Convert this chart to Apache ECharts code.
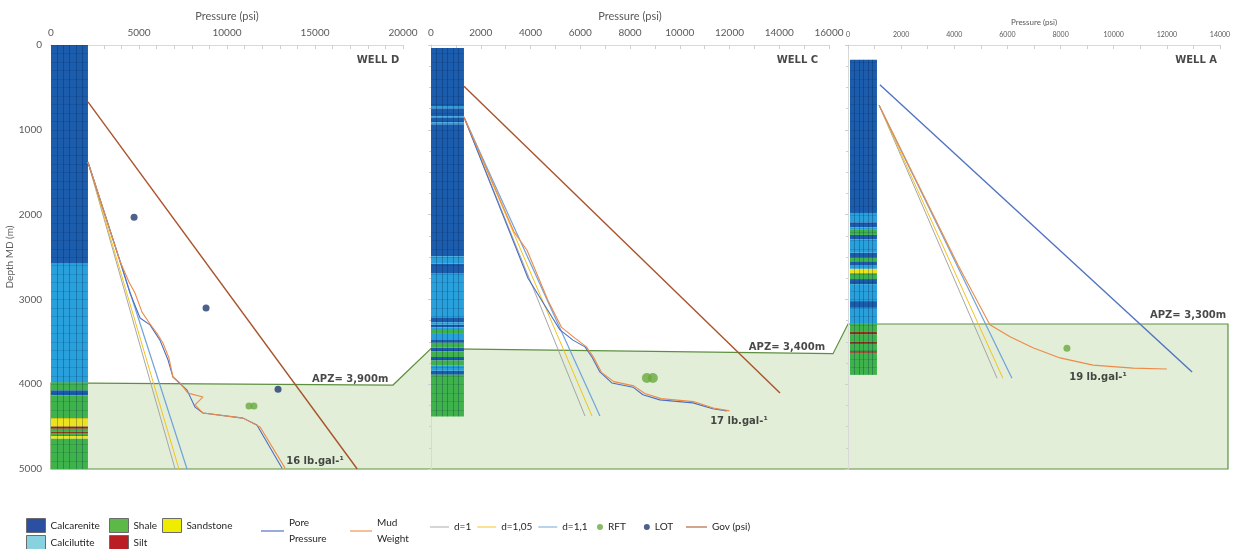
<!DOCTYPE html>
<html>
<head>
<meta charset="utf-8">
<script src="https://cdn.jsdelivr.net/npm/echarts@6/dist/echarts.min.js"></script>
<style>
  html, body { margin: 0; padding: 0; background: #fff; }
  #chart { width: 1237px; height: 549px; }
</style>
</head>
<body>
<div id="chart"></div>
<script>
// 井名 / 坐标轴
const wells = ['WELL D', 'WELL C', 'WELL A']
const pressureMax = [20000, 16000, 14000]
const pressureLabelStep = [5000, 2000, 2000]
const depthMax = 5000

// 岩性分层 [top m, bottom m, type]
const lithD = [
  [0, 2570, 'Calcarenite'], [2570, 3980, 'Calcilutite'], [3980, 4070, 'Shale'],
  [4070, 4130, 'Calcarenite'], [4130, 4400, 'Shale'], [4400, 4500, 'Sandstone'],
  [4500, 4525, 'Silt'], [4525, 4560, 'Shale'], [4560, 4580, 'Silt'], [4580, 4610, 'Shale'],
  [4610, 4640, 'Sandstone'], [4640, 5000, 'Shale']
]
const lithC = [
  [35, 720, 'Calcarenite'], [720, 745, 'Calcilutite'], [745, 840, 'Calcarenite'],
  [840, 860, 'Calcilutite'], [860, 910, 'Calcarenite'], [910, 935, 'Calcilutite'],
  [935, 2490, 'Calcarenite'], [2490, 2580, 'Calcilutite'], [2580, 2690, 'Calcarenite'],
  [2690, 3210, 'Calcilutite'], [3210, 3270, 'Calcarenite'], [3270, 3300, 'Calcilutite'],
  [3300, 3330, 'Calcarenite'], [3330, 3360, 'Calcilutite'], [3360, 3400, 'Shale'],
  [3400, 3480, 'Calcilutite'], [3480, 3510, 'Calcarenite'], [3510, 3570, 'Shale'],
  [3570, 3610, 'Calcarenite'], [3610, 3680, 'Shale'], [3680, 3720, 'Calcarenite'],
  [3720, 3780, 'Shale'], [3780, 3840, 'Calcilutite'], [3840, 3890, 'Calcarenite'],
  [3890, 4380, 'Shale']
]
const lithA = [
  [175, 1980, 'Calcarenite'], [1980, 2090, 'Calcilutite'], [2090, 2150, 'Calcarenite'],
  [2150, 2180, 'Calcilutite'], [2180, 2240, 'Shale'], [2240, 2290, 'Calcarenite'],
  [2290, 2450, 'Calcilutite'], [2450, 2510, 'Calcarenite'], [2510, 2550, 'Shale'],
  [2550, 2600, 'Calcarenite'], [2600, 2640, 'Calcilutite'], [2640, 2690, 'Sandstone'],
  [2690, 2760, 'Shale'], [2760, 2820, 'Calcarenite'], [2820, 3020, 'Calcilutite'],
  [3020, 3100, 'Calcarenite'], [3100, 3280, 'Calcilutite'], [3280, 3380, 'Shale'],
  [3380, 3410, 'Silt'], [3410, 3500, 'Shale'], [3500, 3525, 'Silt'], [3525, 3610, 'Shale'],
  [3610, 3630, 'Silt'], [3630, 3890, 'Shale']
]

// 压力曲线 [psi, depth m]
const govD = [[2100, 670], [17400, 5000]]
const d1D = [[2100, 1380], [7050, 5000]]
const d105D = [[2100, 1380], [7270, 5000]]
const d11D = [[2100, 1380], [7730, 5000]]
const poreD = [[2100, 1380], [3940, 2560], [4490, 2925], [5060, 3220], [5625, 3300], [6190, 3480],
  [6650, 3715], [6930, 3915], [7730, 4070], [8180, 4270], [8640, 4340], [10910, 4400], [11700, 4480], [13130, 4990]]
const mudD = [[2100, 1380], [3940, 2560], [4430, 2795], [4770, 2925], [5170, 3150], [5630, 3290],
  [6020, 3400], [6360, 3515], [6700, 3690], [6930, 3915], [7330, 3985], [7780, 4105], [8640, 4150],
  [8180, 4245], [8640, 4340], [10910, 4400], [11880, 4505], [13300, 4990]]
const rftD = [[11250, 4257], [11530, 4257]]
const lotD = [[4720, 2030], [8810, 3100], [12900, 4060]]

const govC = [[1325, 485], [14030, 4105]]
const d1C = [[1325, 850], [6190, 4375]]
const d105C = [[1325, 850], [6470, 4375]]
const d11C = [[1325, 850], [6790, 4375]]
const poreC = [[1325, 850], [3900, 2750], [5185, 3360], [5710, 3480], [6190, 3560], [6470, 3680],
  [6790, 3855], [7270, 3985], [8120, 4035], [8520, 4125], [9200, 4185], [10530, 4220], [11330, 4290], [11900, 4315]]
const mudC = [[1325, 850], [3330, 2200], [3860, 2420], [4700, 3010], [5250, 3330], [5800, 3460],
  [6250, 3560], [6550, 3690], [6850, 3860], [7350, 3970], [8150, 4020], [8600, 4110], [9250, 4170],
  [10550, 4205], [11350, 4280], [12000, 4315]]
const rftC = [[8680, 3927], [8920, 3927]]
const lotC = []

const govA = [[1200, 470], [12950, 3855]]
const d1A = [[1170, 710], [5610, 3930]]
const d105A = [[1170, 710], [5830, 3930]]
const d11A = [[1170, 710], [6170, 3930]]
const poreA = []
const mudA = [[1170, 710], [4150, 2600], [5340, 3300], [6100, 3440], [6960, 3570], [7980, 3690],
  [9220, 3775], [10730, 3810], [12000, 3820]]
const rftA = [[8240, 3575]]
const lotA = []

// APZ 区域上边界 [psi, depth]
const apzTopD = [[0, 3985], [19430, 4010]]
const apzTopC = [[0, 3580], [16160, 3640]]
const apzTopA = [[0, 3290], [14300, 3290]]

// 标注 [text, psi, depth]
const annotD = [['WELL D', 18580, 177], ['APZ= 3,900m', 17000, 3940], ['16 lb.gal-¹', 15000, 4906]]
const annotC = [['WELL C', 14730, 177], ['APZ= 3,400m', 14310, 3561], ['17 lb.gal-¹', 12380, 4434]]
const annotA = [['WELL A', 13100, 177], ['APZ= 3,300m', 12800, 3184], ['19 lb.gal-¹', 9410, 3915]]

// 岩性柱宽度 (psi)
const columnPsi = [[0, 2100], [0, 1325], [75, 1090]]

const lithTypes = ['Calcarenite', 'Calcilutite', 'Shale', 'Sandstone', 'Silt']
const lithColor = { Calcarenite: '#1b5dac', Calcilutite: '#27a0dc', Shale: '#3fb34b', Sandstone: '#ebe31c', Silt: '#8e3a1e' }
const lithLegendColor = { Calcarenite: '#2b4fa3', Calcilutite: '#88d2df', Shale: '#5cb947', Sandstone: '#f0ec00', Silt: '#b81e24' }

const FONT = 'Lato, "Liberation Sans", sans-serif'
const BOLD_FONT = '"DejaVu Sans", Verdana, sans-serif'
const LINE_ICON = 'path://M0,0 L20,0 L20,1 L0,1 Z'

const wellData = [
  { lith: lithD, gov: govD, d1: d1D, d105: d105D, d11: d11D, pore: poreD, mud: mudD, rft: rftD, lot: lotD, annot: annotD, govColor: '#a8532b' },
  { lith: lithC, gov: govC, d1: d1C, d105: d105C, d11: d11C, pore: poreC, mud: mudC, rft: rftC, lot: lotC, annot: annotC, govColor: '#a8532b' },
  { lith: lithA, gov: govA, d1: d1A, d105: d105A, d11: d11A, pore: poreA, mud: mudA, rft: rftA, lot: lotA, annot: annotA, govColor: '#5173c0' },
]
const gridPos = [{ left: 51, width: 352 }, { left: 431, width: 398 }, { left: 848, width: 372 }]

function rectRender(params, api) {
  const p0 = api.coord([api.value(0), api.value(2)])
  const p1 = api.coord([api.value(1), api.value(3)])
  return {
    type: 'rect',
    shape: { x: p0[0], y: p0[1], width: p1[0] - p0[0], height: p1[1] - p0[1] },
    style: { fill: api.visual('color') },
  }
}

// 岩性柱网格纹理
function textureRender(params, api) {
  const x0 = api.value(0), x1 = api.value(1), top = api.value(2), bottom = api.value(3)
  const p0 = api.coord([x0, top])
  const p1 = api.coord([x1, bottom])
  const children = []
  const w = p1[0] - p0[0]
  for (let k = 1; k < 6; k++) {
    const x = Math.round(p0[0] + (w * k) / 6) + 0.5
    children.push({ type: 'line', shape: { x1: x, y1: p0[1], x2: x, y2: p1[1] }, style: { stroke: 'rgba(0,25,70,0.28)', lineWidth: 1 } })
  }
  for (let d = Math.ceil(top / 100) * 100; d < bottom; d += 100) {
    const y = Math.round(api.coord([x0, d])[1]) + 0.5
    children.push({ type: 'line', shape: { x1: p0[0], y1: y, x2: p1[0], y2: y }, style: { stroke: 'rgba(0,20,60,0.12)', lineWidth: 1 } })
  }
  return { type: 'group', children }
}

function lineSeries(name, data, i, color, width) {
  return {
    type: 'line', name, data, xAxisIndex: i, yAxisIndex: i,
    symbol: 'none', showSymbol: false, z: 4,
    lineStyle: { color, width }, itemStyle: { color },
  }
}

const series = []
wellData.forEach((w, i) => {
  const cx = columnPsi[i]
  lithTypes.forEach((t) => {
    series.push({
      type: 'custom', name: t, xAxisIndex: i, yAxisIndex: i, z: 3,
      itemStyle: { color: lithColor[t] },
      encode: { x: [0, 1], y: [2, 3] },
      data: w.lith.filter((r) => r[2] === t).map((r) => [cx[0], cx[1], r[0], r[1]]),
      renderItem: rectRender,
    })
  })
  const colTop = w.lith[0][0], colBottom = w.lith[w.lith.length - 1][1]
  series.push({
    type: 'custom', name: 'texture' + i, xAxisIndex: i, yAxisIndex: i, z: 3, silent: true,
    encode: { x: [0, 1], y: [2, 3] },
    data: [[cx[0], cx[1], colTop, colBottom]],
    renderItem: textureRender,
  })
  series.push(lineSeries('d=1', w.d1, i, '#a6a6a6', 1))
  series.push(lineSeries('d=1,05', w.d105, i, '#f5c21b', 1))
  series.push(lineSeries('d=1,1', w.d11, i, '#6fa3d8', 1.2))
  series.push(lineSeries('Pore Pressure', w.pore, i, '#4a6fc4', 1.1))
  series.push(lineSeries('Mud Weight', w.mud, i, '#ee8a47', 1.1))
  series.push(lineSeries('Gov (psi)', w.gov, i, w.govColor, 1.4))
  series.push({
    type: 'scatter', name: 'RFT', data: w.rft, xAxisIndex: i, yAxisIndex: i, z: 5,
    symbolSize: i === 1 ? 10 : 7, itemStyle: { color: '#6aaa3f' },
  })
  series.push({
    type: 'scatter', name: 'LOT', data: w.lot, xAxisIndex: i, yAxisIndex: i, z: 5,
    symbolSize: 7, itemStyle: { color: '#1f3a6e' },
  })
  series.push({
    type: 'scatter', name: 'annot' + i, xAxisIndex: i, yAxisIndex: i, z: 6, silent: true,
    symbolSize: 0,
    data: w.annot.map((a) => ({ name: a[0], value: [a[1], a[2]] })),
    label: {
      show: true, position: 'inside', formatter: (p) => p.name,
      color: '#1a1a1a', fontWeight: 'bold', fontSize: 10, fontFamily: BOLD_FONT,
    },
  })
})

const legendText = { fontSize: 10, color: '#262626', fontFamily: FONT }
// 岩性图例，每项单独定位
const legends = [
  { name: 'Calcarenite', left: 26, top: 518 },
  { name: 'Shale', left: 109, top: 518 },
  { name: 'Sandstone', left: 162, top: 518 },
  { name: 'Calcilutite', left: 26, top: 535 },
  { name: 'Silt', left: 109, top: 535 },
].map((l) => ({
  left: l.left, top: l.top,
  data: [{ name: l.name, itemStyle: { color: lithLegendColor[l.name], borderColor: '#6b6b6b', borderWidth: 1 } }],
  icon: 'rect', itemWidth: 19, itemHeight: 14, textStyle: legendText,
}))
legends.push(
  { data: ['Pore Pressure'], left: 261, top: 515, icon: LINE_ICON, itemWidth: 23, itemHeight: 1.2, formatter: (n) => n.replace(' ', '\n'), textStyle: { ...legendText, lineHeight: 16 } },
  { data: ['Mud Weight'], left: 350, top: 515, icon: LINE_ICON, itemWidth: 22, itemHeight: 1.2, formatter: (n) => n.replace(' ', '\n'), textStyle: { ...legendText, lineHeight: 16 } },
  { data: ['d=1', 'd=1,05', 'd=1,1'], left: 430, top: 522, icon: LINE_ICON, itemWidth: 19, itemHeight: 1.2, itemGap: 6, textStyle: legendText },
  { data: ['RFT', 'LOT'], left: 597, top: 522, icon: 'circle', itemWidth: 6, itemHeight: 6, itemGap: 18, textStyle: legendText },
  { data: ['Gov (psi)'], left: 686, top: 522, icon: LINE_ICON, itemWidth: 21, itemHeight: 1.2, textStyle: legendText },
)

const option = {
  animation: false,
  backgroundColor: '#fff',
  legend: legends.map((l) => ({ selectedMode: false, padding: 0, ...l })),
  grid: gridPos.map((g) => ({ left: g.left, width: g.width, top: 45, height: 424, outerBoundsMode: 'none' })),
  xAxis: wells.map((w, i) => ({
    type: 'value', gridIndex: i, position: 'top',
    min: 0, max: pressureMax[i], interval: pressureLabelStep[i],
    name: 'Pressure (psi)', nameLocation: 'middle', nameGap: i === 2 ? 17 : 23,
    nameTextStyle: { color: '#595959', fontSize: i === 2 ? 8 : 11, fontFamily: FONT },
    axisLine: { show: true, lineStyle: { color: '#d9d9d9' } },
    axisTick: { show: true, inside: true, length: 4, lineStyle: { color: '#cfcfcf' } },
    minorTick: { show: true, splitNumber: pressureLabelStep[i] / 1000, length: 4, lineStyle: { color: '#cfcfcf' } },
    axisLabel: { color: '#595959', fontSize: i === 2 ? 7 : 10, margin: 7, fontFamily: FONT, formatter: (v) => String(v) },
    splitLine: { show: false },
    minorSplitLine: { show: false },
  })),
  yAxis: wells.map((w, i) => ({
    type: 'value', gridIndex: i, inverse: true, min: 0, max: depthMax, interval: 1000,
    name: i === 0 ? 'Depth MD (m)' : '', nameLocation: 'middle', nameGap: 34, nameRotate: 90,
    nameTextStyle: { color: '#595959', fontSize: 10, fontFamily: FONT },
    axisLine: { show: true, lineStyle: { color: '#d9d9d9' } },
    axisTick: { show: i > 0, length: 3, lineStyle: { color: '#cfcfcf' } },
    minorTick: { show: i > 0, splitNumber: 4, length: 2, lineStyle: { color: '#cfcfcf' } },
    axisLabel: { show: i === 0, color: '#595959', fontSize: 10, margin: 9, fontFamily: FONT, formatter: (v) => String(v) },
    splitLine: { show: false },
  })),
  series,
}

const chart = echarts.init(document.getElementById('chart'))
chart.setOption(option)

// APZ 区域多边形 (通过坐标轴换算)
const apzTops = [apzTopD, apzTopC, apzTopA]
const bandPoints = []
apzTops.forEach((seg, i) => seg.forEach((pt) => bandPoints.push(chart.convertToPixel({ gridIndex: i }, pt))))
bandPoints.push(chart.convertToPixel({ gridIndex: 2 }, [apzTopA[1][0], depthMax]))
bandPoints.push(chart.convertToPixel({ gridIndex: 0 }, [0, depthMax]))

chart.setOption({
  graphic: [{
    type: 'polygon', silent: true, z: -1,
    shape: { points: bandPoints },
    style: { fill: '#e2eed8', stroke: '#5e8f41', lineWidth: 1.2 },
  }],
})
</script>
</body>
</html>
